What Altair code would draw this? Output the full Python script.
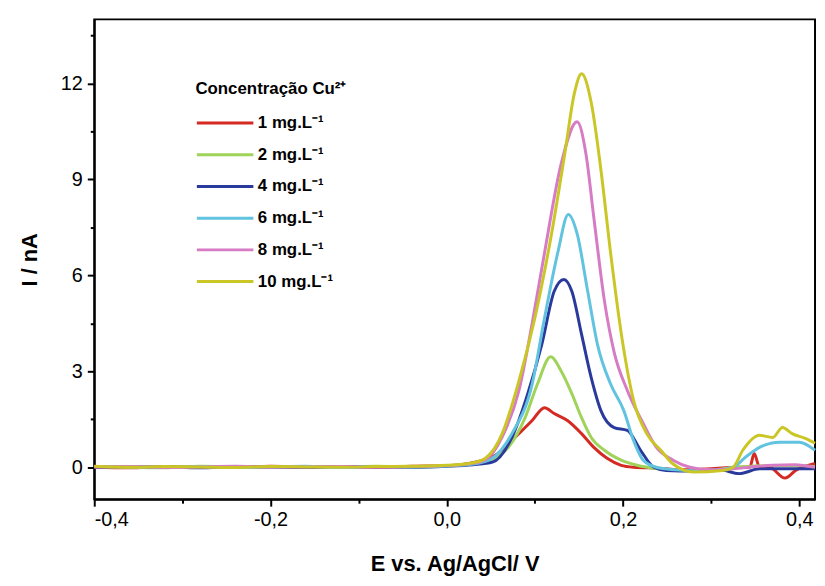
import altair as alt
import pandas as pd

labels = ["1 mg.L⁻¹", "2 mg.L⁻¹", "4 mg.L⁻¹", "6 mg.L⁻¹", "8 mg.L⁻¹", "10 mg.L⁻¹"]
colors = ["#d42a22", "#9fd35a", "#2a3a9c", "#62c3e0", "#d67bc4", "#c9c626"]

base_E = [-0.4, -0.36, -0.32, -0.28, -0.24, -0.2, -0.16, -0.12, -0.08, -0.04, 0.0]

E1 = base_E + [0.025, 0.055, 0.074, 0.097, 0.111, 0.122, 0.137, 0.153, 0.167, 0.182, 0.198, 0.212, 0.24, 0.27, 0.30, 0.33, 0.344, 0.349, 0.355, 0.366, 0.384, 0.396, 0.418]
I1 = [0.01, -0.02, 0.02, 0.0, -0.01, 0.03, 0.0, 0.02, -0.01, 0.03, 0.05] + [0.12, 0.37, 0.84, 1.46, 1.86, 1.68, 1.46, 1.05, 0.62, 0.28, 0.06, 0.0, -0.03, -0.08, -0.05, 0.0, 0.0, 0.43, 0.0, 0.0, -0.34, -0.1, 0.12]

E2 = base_E + [0.03, 0.05, 0.07, 0.089, 0.103, 0.118, 0.130, 0.142, 0.153, 0.164, 0.179, 0.198, 0.216, 0.24, 0.27, 0.30, 0.33, 0.36, 0.39, 0.418]
I2 = [0.02, 0.0, -0.02, 0.03, 0.01, -0.01, 0.02, 0.0, 0.03, 0.01, 0.04] + [0.1, 0.22, 0.62, 1.55, 2.6, 3.45, 3.0, 2.3, 1.55, 0.93, 0.53, 0.22, 0.06, -0.05, -0.1, -0.08, 0.0, 0.05, 0.05, 0.02]

E4 = base_E + [0.03, 0.052, 0.074, 0.092, 0.108, 0.122, 0.133, 0.142, 0.153, 0.164, 0.175, 0.190, 0.205, 0.220, 0.235, 0.249, 0.28, 0.31, 0.332, 0.355, 0.39, 0.418]
I4 = [0.0, 0.02, 0.01, -0.02, 0.02, 0.0, -0.01, 0.02, 0.01, 0.0, 0.03] + [0.08, 0.16, 0.93, 2.3, 3.85, 5.5, 5.87, 5.5, 4.16, 2.8, 1.77, 1.24, 1.15, 0.53, 0.0, -0.1, -0.12, -0.08, -0.2, -0.05, -0.05, -0.05]

E6 = base_E + [0.03, 0.05, 0.074, 0.097, 0.111, 0.126, 0.138, 0.148, 0.160, 0.171, 0.186, 0.201, 0.212, 0.223, 0.238, 0.26, 0.29, 0.325, 0.339, 0.355, 0.378, 0.40, 0.418]
I6 = [0.02, 0.01, 0.0, 0.02, -0.01, 0.01, 0.03, -0.01, 0.02, 0.01, 0.04] + [0.1, 0.25, 1.05, 2.6, 4.66, 6.7, 7.9, 7.3, 5.5, 3.85, 2.6, 1.77, 0.84, 0.22, 0.0, -0.08, -0.12, 0.0, 0.31, 0.62, 0.78, 0.78, 0.53]

E8 = base_E + [0.03, 0.045, 0.063, 0.082, 0.097, 0.111, 0.130, 0.148, 0.158, 0.167, 0.179, 0.190, 0.205, 0.223, 0.238, 0.257, 0.276, 0.30, 0.325, 0.35, 0.37, 0.395, 0.418]
I8 = [0.01, 0.02, -0.01, 0.01, 0.03, 0.0, 0.01, 0.02, 0.0, 0.02, 0.05] + [0.12, 0.25, 0.95, 2.4, 4.5, 6.7, 9.5, 10.8, 9.8, 7.8, 5.2, 3.6, 2.4, 1.37, 0.62, 0.22, 0.0, -0.08, -0.05, 0.02, 0.06, 0.08, 0.0]

E10 = base_E + [0.03, 0.044, 0.063, 0.081, 0.100, 0.119, 0.134, 0.145, 0.153, 0.164, 0.175, 0.186, 0.198, 0.212, 0.227, 0.243, 0.257, 0.28, 0.313, 0.325, 0.336, 0.355, 0.370, 0.381, 0.392, 0.407, 0.418]
I10 = [0.03, 0.0, 0.02, 0.01, -0.01, 0.02, 0.01, 0.0, 0.02, 0.03, 0.06] + [0.14, 0.28, 1.05, 2.6, 4.66, 7.3, 9.8, 11.7, 12.3, 11.4, 9.3, 6.7, 4.2, 2.1, 1.05, 0.53, 0.1, -0.15, -0.1, 0.0, 0.53, 1.0, 0.93, 1.24, 1.05, 0.9, 0.75]

x_ticks = [-0.4, -0.3, -0.2, -0.1, 0.0, 0.1, 0.2, 0.3, 0.4]
y_ticks = [0, 1.5, 3, 4.5, 6, 7.5, 9, 10.5, 12, 13.5]

series = [(labels[0], E1, I1), (labels[1], E2, I2), (labels[2], E4, I4),
          (labels[3], E6, I6), (labels[4], E8, I8), (labels[5], E10, I10)]
rows = []
for order, (lab, es, ys) in enumerate(series):
    for e, i in zip(es, ys):
        rows.append({"E": e, "I": i, "conc": lab, "ord": order})
df = pd.DataFrame(rows)

FONT = "Liberation Sans"

x_label_expr = ("round(datum.value*10) % 2 == 0 ? "
                "replace(replace(format(datum.value, '.1f'), '.', ','), '\u2212', '-') : ''")

chart = alt.Chart(df).mark_line(strokeWidth=3, interpolate="monotone").encode(
    x=alt.X("E:Q",
            scale=alt.Scale(domain=[-0.4, 0.418], nice=False, zero=False),
            axis=alt.Axis(values=x_ticks, labelExpr=x_label_expr,
                          title="E vs. Ag/AgCl/ V", titlePadding=24,
                          tickSize={"condition": {"test": "round(datum.value*10) % 2 == 0", "value": 7}, "value": 4},
                          labelPadding=4, grid=False)),
    y=alt.Y("I:Q",
            scale=alt.Scale(domain=[-1, 14], nice=False, zero=False),
            axis=alt.Axis(values=y_ticks,
                          labelExpr="datum.value % 3 == 0 ? datum.label : ''",
                          title="I / nA", titlePadding=19,
                          tickSize={"condition": {"test": "datum.value % 3 == 0", "value": 7}, "value": 4},
                          labelPadding=5, grid=False)),
    color=alt.Color("conc:N",
                    scale=alt.Scale(domain=labels, range=colors),
                    legend=alt.Legend(orient="none", legendX=102, legendY=62,
                                      title="Concentração Cu²⁺",
                                      titleFont=FONT, titleFontSize=17, titleFontWeight="bold",
                                      titleColor="black", titlePadding=14,
                                      labelFont=FONT, labelFontSize=17, labelFontWeight="bold",
                                      labelColor="black", labelOffset=40,
                                      symbolType="M-1,0H4.7", symbolSize=400,
                                      symbolStrokeWidth=3, rowPadding=12, padding=0)),
    order=alt.Order("ord:Q"),
    detail="conc:N",
).properties(
    width=727, height=484,
    autosize=alt.AutoSizeParams(type="none"),
    padding={"left": 87, "top": 9, "right": 2, "bottom": 77},
).configure_view(
    stroke="black", strokeWidth=2
).configure_axis(
    domainColor="black", domainWidth=2, tickColor="black", tickWidth=2,
    labelFont=FONT, labelFontSize=20, labelColor="black",
    titleFont=FONT, titleFontSize=22, titleFontWeight="bold", titleColor="black",
)

chart.save("out.html", embed_options={"renderer": "svg", "actions": False})
